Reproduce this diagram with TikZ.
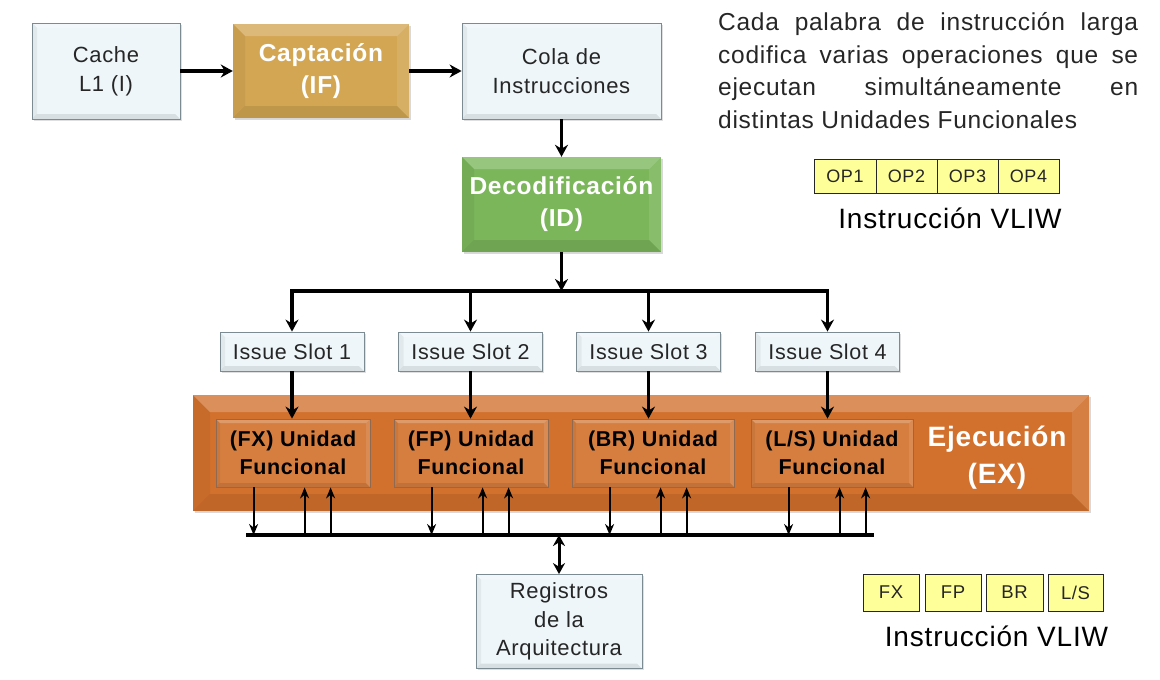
\documentclass[tikz,border=0pt]{standalone}
\usepackage{fontspec}
\setmainfont{Liberation Sans}[LetterSpace=3]
\usetikzlibrary{arrows.meta,shadows}
\definecolor{lightfill}{HTML}{EEF6F9}
\definecolor{lightdraw}{HTML}{7C8A92}
\definecolor{goldfill}{HTML}{D3A653}
\definecolor{greenfill}{HTML}{7BB65B}
\definecolor{exfill}{HTML}{D2712D}
\definecolor{fufill}{HTML}{D57E40}
\definecolor{fudraw}{HTML}{8E6A52}
\definecolor{yellowfill}{HTML}{FFFF99}
\definecolor{txtgray}{HTML}{262626}
\begin{document}
\begin{tikzpicture}[x=1pt,y=-1pt,
  bevel/.style={path picture={
    \fill[white,opacity=0.22] (path picture bounding box.north west) -- (path picture bounding box.north east)
      -- ([shift={(-#1,-#1)}]path picture bounding box.north east) -- ([shift={(#1,-#1)}]path picture bounding box.north west) -- cycle;
    \fill[white,opacity=0.10] (path picture bounding box.north east) -- (path picture bounding box.south east)
      -- ([shift={(-#1,#1)}]path picture bounding box.south east) -- ([shift={(-#1,-#1)}]path picture bounding box.north east) -- cycle;
    \fill[black,opacity=0.05] (path picture bounding box.north west) -- (path picture bounding box.south west)
      -- ([shift={(#1,#1)}]path picture bounding box.south west) -- ([shift={(#1,-#1)}]path picture bounding box.north west) -- cycle;
    \fill[black,opacity=0.09] (path picture bounding box.south west) -- (path picture bounding box.south east)
      -- ([shift={(-#1,#1)}]path picture bounding box.south east) -- ([shift={(#1,#1)}]path picture bounding box.south west) -- cycle;
  }},
  lbox/.style={draw=lightdraw, fill=lightfill, line width=0.8pt, bevel=5pt, align=center, inner sep=0pt,
    text=txtgray, font=\fontsize{22pt}{29pt}\selectfont,
    drop shadow={shadow xshift=1.5pt,shadow yshift=-1.5pt,opacity=0.25}},
  stage/.style={bevel=12pt, align=center, inner sep=0pt, text=white,
    font=\bfseries\fontsize{24.5pt}{32pt}\selectfont,
    drop shadow={shadow xshift=2pt,shadow yshift=-2pt,opacity=0.3}},
  fubox/.style={draw=fudraw, fill=fufill, line width=0.8pt, bevel=4pt, align=center, inner sep=0pt,
    minimum height=68pt, text=black, font=\bfseries\fontsize{21.5pt}{28pt}\selectfont},
  slotbox/.style={lbox, minimum width=144pt, minimum height=39pt, font=\fontsize{21.5pt}{26pt}\selectfont},
  ycell/.style={draw=black!85, fill=yellowfill, line width=0.8pt, inner sep=0pt, text=txtgray},
  bigarrow/.style={line width=3.4pt, -{Stealth[length=12pt,width=13pt]}},
  bigline/.style={line width=3.4pt},
  thinarrow/.style={line width=2pt, -{Stealth[length=11pt,width=9pt]}},
  dblarrow/.style={line width=3pt, {Stealth[length=11pt,width=12pt]}-{Stealth[length=11pt,width=12pt]}}
]
\useasboundingbox (0,0) rectangle (1160,680);

% pipeline front end
\node[lbox, minimum width=148pt, minimum height=96pt] (cache) at (106,71) {Cache\\L1 (I)};
\node[stage, fill=goldfill, minimum width=176pt, minimum height=94pt] (if) at (321,71) {Captación\\(IF)};
\node[lbox, minimum width=199pt, minimum height=96pt] (cola) at (561.5,71) {Cola de\\Instrucciones};
\node[stage, fill=greenfill, minimum width=199pt, minimum height=95pt] (id) at (561.5,204.5) {Decodificación\\(ID)};

\draw[bigarrow] (cache.east) -- (if.west);
\draw[bigarrow] (if.east) -- (cola.west);
\draw[bigarrow] (cola.south) -- (id.north);

% issue slots
\node[slotbox] (s1) at (292,351.5) {Issue Slot 1};
\node[slotbox] (s2) at (470.5,351.5) {Issue Slot 2};
\node[slotbox] (s3) at (648.5,351.5) {Issue Slot 3};
\node[slotbox] (s4) at (827.5,351.5) {Issue Slot 4};

\coordinate (dbus) at (561.5,291);
\draw[bigarrow] (id.south) -- (dbus);
\draw[bigline, line cap=rect] (s1.north |- dbus) -- (s4.north |- dbus);
\foreach \s in {s1,s2,s3,s4}{
  \draw[bigarrow] (\s.north |- dbus) -- (\s.north);
}

% execution stage
\node[stage, fill=exfill, bevel=17pt, minimum width=896pt, minimum height=116pt] (ex) at (641,453) {};
\node[text=white, align=center, font=\bfseries\fontsize{28pt}{37pt}\selectfont, inner sep=0pt] (exlbl) at (997,458) {Ejecución\\(EX)};

\node[fubox, minimum width=154pt] (fx) at (293,453) {(FX) Unidad\\Funcional};
\node[fubox, minimum width=154pt] (fp) at (471,453) {(FP) Unidad\\Funcional};
\node[fubox, minimum width=162pt] (br) at (653,453) {(BR) Unidad\\Funcional};
\node[fubox, minimum width=162pt] (ls) at (832,453) {(L/S) Unidad\\Funcional};

\draw[bigarrow] (s1.south) -- (s1.south |- fx.north);
\draw[bigarrow] (s2.south) -- (s2.south |- fp.north);
\draw[bigarrow] (s3.south) -- (s3.south |- br.north);
\draw[bigarrow] (s4.south) -- (s4.south |- ls.north);

% register bus
\coordinate (busL) at (248,535);
\coordinate (busR) at (872,535);
\draw[bigline, line cap=rect] (busL) -- (busR);
\foreach \u in {fx,fp,br,ls}{
  \draw[thinarrow] ([xshift=38pt]\u.south west) -- ([xshift=38pt]\u.south west |- busL);
  \draw[thinarrow] ([xshift=89pt]\u.south west |- busL) -- ([xshift=89pt]\u.south west);
  \draw[thinarrow] ([xshift=115pt]\u.south west |- busL) -- ([xshift=115pt]\u.south west);
}

\node[lbox, minimum width=166pt, minimum height=94pt, font=\fontsize{22pt}{28.5pt}\selectfont] (reg) at (559,621.5) {Registros\\de la\\Arquitectura};
\draw[dblarrow] (reg.north |- busL) -- (reg.north);

% explanation text
\node[anchor=north west, inner sep=0pt, text width=420pt, align=justify, text=txtgray,
  font=\fontsize{24.5pt}{32.5pt}\selectfont] (para) at (718,12.5)
  {Cada palabra de instrucción larga\linebreak codifica varias operaciones que se\linebreak ejecutan simultáneamente en\linebreak distintas Unidades Funcionales};

% VLIW instruction 1
\begin{scope}[every node/.style={ycell, minimum height=34pt, font=\fontsize{18pt}{20pt}\selectfont}]
\node[minimum width=62pt] (op1) at (845,176.5) {OP1};
\node[minimum width=61pt] (op2) at (906.5,176.5) {OP2};
\node[minimum width=61pt] (op3) at (967.5,176.5) {OP3};
\node[minimum width=61pt] (op4) at (1028.5,176.5) {OP4};
\end{scope}
\node[inner sep=0pt, font=\fontsize{28pt}{30pt}\selectfont] (vliw1) at (950,218) {Instrucción VLIW};

% VLIW instruction 2
\begin{scope}[every node/.style={ycell, minimum height=37pt, font=\fontsize{18.5pt}{20pt}\selectfont}]
\node[minimum width=56pt] (cfx) at (891,592.5) {FX};
\node[minimum width=56pt] (cfp) at (953,592.5) {FP};
\node[minimum width=57pt] (cbr) at (1014.5,592.5) {BR};
\node[minimum width=55pt] (cls) at (1075.5,592.5) {L/S};
\end{scope}
\node[inner sep=0pt, font=\fontsize{28pt}{30pt}\selectfont] (vliw2) at (996.5,636) {Instrucción VLIW};
\end{tikzpicture}
\end{document}
